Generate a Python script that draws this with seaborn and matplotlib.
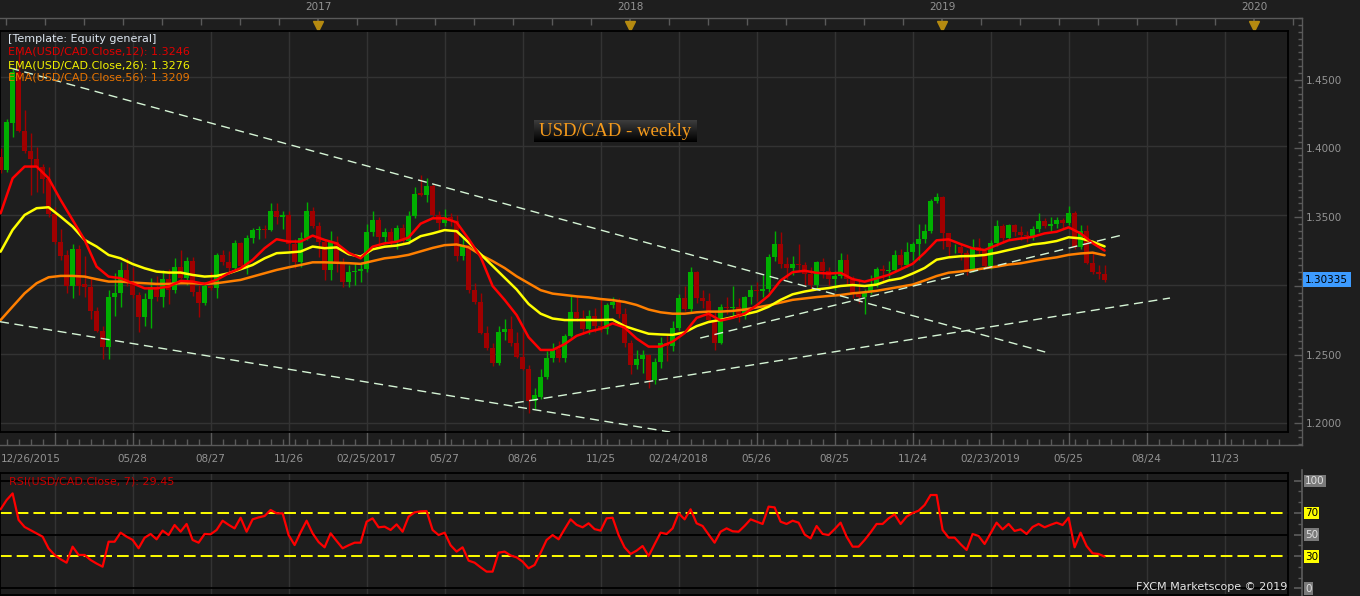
import numpy as np
import pandas as pd
import matplotlib
matplotlib.use("Agg")
import matplotlib.pyplot as plt
import matplotlib.patches as mpatches
import seaborn as sns

# ---------------- data (weekly candles, week 0 = 12/26/2015) ----------------
opens = [
    1.3925, 1.3830, 1.4170, 1.4539, 1.4112, 1.3968, 1.3907, 1.3848, 1.3764, 1.3507,
    1.3307, 1.3217, 1.2993, 1.3258, 1.3005, 1.2985, 1.2812, 1.2668, 1.2547, 1.2908,
    1.2937, 1.3106, 1.3017, 1.2925, 1.2769, 1.2894, 1.2985, 1.2908, 1.3038, 1.2961,
    1.3130, 1.3046, 1.3171, 1.2949, 1.2865, 1.2990, 1.2978, 1.3214, 1.3166, 1.3120,
    1.3303, 1.3134, 1.3339, 1.3395, 1.3405, 1.3398, 1.3532, 1.3489, 1.3505, 1.3291,
    1.3166, 1.3339, 1.3532, 1.3424, 1.3310, 1.3106, 1.3310, 1.3166, 1.3021, 1.3094,
    1.3100, 1.3112, 1.3382, 1.3467, 1.3342, 1.3382, 1.3315, 1.3407, 1.3315, 1.3496,
    1.3659, 1.3647, 1.3715, 1.3503, 1.3447, 1.3486, 1.3462, 1.3207, 1.3286, 1.2961,
    1.2877, 1.2648, 1.2540, 1.2436, 1.2655, 1.2677, 1.2576, 1.2480, 1.2390, 1.2162,
    1.2190, 1.2330, 1.2467, 1.2532, 1.2467, 1.2629, 1.2804, 1.2756, 1.2677, 1.2773,
    1.2700, 1.2677, 1.2853, 1.2877, 1.2790, 1.2575, 1.2419, 1.2460, 1.2490, 1.2311,
    1.2440, 1.2575, 1.2560, 1.2685, 1.2900, 1.2825, 1.3090, 1.2900, 1.2880, 1.2745,
    1.2580, 1.2840, 1.2830, 1.2835, 1.2770, 1.2910, 1.2960, 1.2955, 1.2970, 1.3200,
    1.3290, 1.3150, 1.3120, 1.3150, 1.3140, 1.3080, 1.3000, 1.3160, 1.3100, 1.3040,
    1.3060, 1.3180, 1.3040, 1.2930, 1.2910, 1.2950, 1.3000, 1.3110, 1.3100, 1.3105,
    1.3214, 1.3142, 1.3238, 1.3290, 1.3327, 1.3387, 1.3604, 1.3635, 1.3370, 1.3269,
    1.3275, 1.3226, 1.3098, 1.3274, 1.3240, 1.3134, 1.3298, 1.3423, 1.3334, 1.3430,
    1.3380, 1.3360, 1.3350, 1.3400, 1.3462, 1.3420, 1.3440, 1.3470, 1.3443, 1.3520,
    1.3274, 1.3390, 1.3154, 1.3090, 1.3080,
]
highs = [
    1.3985, 1.4195, 1.4560, 1.4690, 1.4260, 1.4093, 1.3992, 1.3870, 1.3850, 1.3560,
    1.3403, 1.3250, 1.3295, 1.3285, 1.3210, 1.3052, 1.2840, 1.2700, 1.2960, 1.3082,
    1.3166, 1.3190, 1.3130, 1.2950, 1.2937, 1.3046, 1.3060, 1.3105, 1.3110, 1.3190,
    1.3250, 1.3200, 1.3200, 1.3000, 1.3010, 1.3090, 1.3225, 1.3250, 1.3240, 1.3320,
    1.3310, 1.3360, 1.3410, 1.3420, 1.3430, 1.3590, 1.3590, 1.3530, 1.3530, 1.3330,
    1.3380, 1.3600, 1.3560, 1.3450, 1.3320, 1.3390, 1.3350, 1.3190, 1.3140, 1.3154,
    1.3165, 1.3438, 1.3532, 1.3486, 1.3406, 1.3410, 1.3430, 1.3440, 1.3532, 1.3703,
    1.3792, 1.3768, 1.3730, 1.3530, 1.3545, 1.3520, 1.3500, 1.3345, 1.3300, 1.3010,
    1.2940, 1.2700, 1.2580, 1.2700, 1.2750, 1.2770, 1.2660, 1.2660, 1.2420, 1.2250,
    1.2390, 1.2520, 1.2580, 1.2590, 1.2640, 1.2920, 1.2920, 1.2820, 1.2820, 1.2830,
    1.2900, 1.2870, 1.2910, 1.2905, 1.2830, 1.2600, 1.2530, 1.2530, 1.2500, 1.2470,
    1.2620, 1.2640, 1.2735, 1.2930, 1.2990, 1.3125, 1.3100, 1.2960, 1.2940, 1.2800,
    1.2860, 1.2910, 1.2990, 1.2900, 1.2920, 1.2995, 1.3020, 1.3070, 1.3220, 1.3385,
    1.3380, 1.3200, 1.3210, 1.3290, 1.3160, 1.3130, 1.3170, 1.3190, 1.3130, 1.3100,
    1.3230, 1.3220, 1.3060, 1.3040, 1.2970, 1.3070, 1.3130, 1.3140, 1.3170, 1.3250,
    1.3260, 1.3310, 1.3310, 1.3440, 1.3440, 1.3620, 1.3665, 1.3640, 1.3370, 1.3290,
    1.3290, 1.3250, 1.3330, 1.3340, 1.3260, 1.3320, 1.3465, 1.3440, 1.3440, 1.3440,
    1.3420, 1.3390, 1.3420, 1.3520, 1.3480, 1.3490, 1.3490, 1.3480, 1.3565, 1.3530,
    1.3430, 1.3430, 1.3230, 1.3140, 1.3140,
]
lows = [
    1.3810, 1.3815, 1.4070, 1.4100, 1.3950, 1.3648, 1.3672, 1.3660, 1.3490, 1.3290,
    1.3178, 1.2937, 1.2900, 1.2925, 1.2913, 1.2751, 1.2660, 1.2460, 1.2463, 1.2776,
    1.2840, 1.2990, 1.2900, 1.2660, 1.2700, 1.2685, 1.2880, 1.2840, 1.2860, 1.2940,
    1.3040, 1.3000, 1.2920, 1.2769, 1.2850, 1.2960, 1.2900, 1.3140, 1.3080, 1.3100,
    1.3110, 1.3080, 1.3300, 1.3330, 1.3340, 1.3390, 1.3440, 1.3400, 1.3250, 1.3120,
    1.3130, 1.3320, 1.3410, 1.3200, 1.3034, 1.3034, 1.3090, 1.2980, 1.2980, 1.3000,
    1.3020, 1.3094, 1.3350, 1.3286, 1.3300, 1.3280, 1.3260, 1.3290, 1.3290, 1.3480,
    1.3640, 1.3600, 1.3490, 1.3394, 1.3420, 1.3420, 1.3174, 1.3180, 1.2940, 1.2860,
    1.2640, 1.2530, 1.2413, 1.2420, 1.2600, 1.2560, 1.2470, 1.2380, 1.2070, 1.2100,
    1.2170, 1.2320, 1.2440, 1.2440, 1.2440, 1.2620, 1.2740, 1.2640, 1.2640, 1.2660,
    1.2660, 1.2640, 1.2830, 1.2760, 1.2550, 1.2355, 1.2390, 1.2360, 1.2250, 1.2280,
    1.2400, 1.2450, 1.2520, 1.2670, 1.2810, 1.2800, 1.2870, 1.2830, 1.2720, 1.2530,
    1.2570, 1.2790, 1.2770, 1.2730, 1.2750, 1.2860, 1.2880, 1.2910, 1.2950, 1.3170,
    1.3120, 1.3040, 1.3070, 1.3100, 1.3000, 1.2960, 1.2970, 1.3050, 1.3000, 1.2960,
    1.3050, 1.3000, 1.2900, 1.2870, 1.2790, 1.2930, 1.2980, 1.3020, 1.3050, 1.3090,
    1.3120, 1.3130, 1.3180, 1.3180, 1.3300, 1.3370, 1.3590, 1.3260, 1.3200, 1.3230,
    1.3180, 1.3070, 1.3090, 1.3220, 1.3120, 1.3110, 1.3280, 1.3300, 1.3320, 1.3350,
    1.3320, 1.3310, 1.3320, 1.3380, 1.3410, 1.3390, 1.3410, 1.3410, 1.3430, 1.3260,
    1.3260, 1.3150, 1.3080, 1.3040, 1.3020,
]
closes = [
    1.3830, 1.4177, 1.4539, 1.4112, 1.3968, 1.3907, 1.3848, 1.3764, 1.3511, 1.3307,
    1.3210, 1.2993, 1.3258, 1.2993, 1.2981, 1.2807, 1.2663, 1.2547, 1.2908, 1.2937,
    1.3106, 1.3017, 1.2925, 1.2769, 1.2894, 1.2985, 1.2908, 1.3038, 1.2961, 1.3130,
    1.3046, 1.3171, 1.2949, 1.2865, 1.2990, 1.2978, 1.3214, 1.3166, 1.3120, 1.3303,
    1.3134, 1.3339, 1.3395, 1.3405, 1.3398, 1.3532, 1.3489, 1.3505, 1.3291, 1.3166,
    1.3339, 1.3532, 1.3424, 1.3310, 1.3106, 1.3310, 1.3166, 1.3021, 1.3094, 1.3100,
    1.3112, 1.3382, 1.3467, 1.3342, 1.3382, 1.3315, 1.3407, 1.3315, 1.3496, 1.3655,
    1.3647, 1.3715, 1.3503, 1.3447, 1.3486, 1.3462, 1.3207, 1.3286, 1.2961, 1.2877,
    1.2648, 1.2540, 1.2436, 1.2660, 1.2677, 1.2576, 1.2480, 1.2390, 1.2162, 1.2203,
    1.2330, 1.2467, 1.2532, 1.2467, 1.2629, 1.2804, 1.2756, 1.2677, 1.2773, 1.2700,
    1.2677, 1.2853, 1.2877, 1.2790, 1.2575, 1.2419, 1.2460, 1.2490, 1.2311, 1.2440,
    1.2575, 1.2560, 1.2685, 1.2900, 1.2825, 1.3090, 1.2900, 1.2880, 1.2745, 1.2580,
    1.2840, 1.2830, 1.2835, 1.2770, 1.2910, 1.2960, 1.2955, 1.2970, 1.3200, 1.3290,
    1.3150, 1.3120, 1.3150, 1.3140, 1.3080, 1.3000, 1.3160, 1.3100, 1.3040, 1.3060,
    1.3180, 1.3040, 1.2930, 1.2910, 1.2950, 1.3000, 1.3110, 1.3100, 1.3105, 1.3214,
    1.3142, 1.3238, 1.3290, 1.3327, 1.3387, 1.3604, 1.3635, 1.3370, 1.3269, 1.3275,
    1.3226, 1.3098, 1.3274, 1.3240, 1.3134, 1.3298, 1.3423, 1.3334, 1.3430, 1.3380,
    1.3360, 1.3350, 1.3400, 1.3462, 1.3420, 1.3440, 1.3470, 1.3443, 1.3520, 1.3274,
    1.3390, 1.3154, 1.3090, 1.3080, 1.3033,
]

# EMA readings every second week
ema_weeks = list(range(0, 185, 2))
ema12 = [
    1.3515, 1.3768, 1.3853, 1.3853, 1.3768, 1.3612, 1.3467, 1.3323, 1.3130, 1.3058,
    1.3046, 1.3010, 1.2973, 1.2973, 1.2985, 1.3027, 1.3022, 1.3005, 1.3034, 1.3082,
    1.3118, 1.3178, 1.3263, 1.3328, 1.3311, 1.3311, 1.3354, 1.3323, 1.3298, 1.3230,
    1.3190, 1.3274, 1.3298, 1.3310, 1.3340, 1.3440, 1.3479, 1.3479, 1.3450, 1.3330,
    1.3200, 1.2990, 1.2890, 1.2780, 1.2620, 1.2528, 1.2528, 1.2570, 1.2630, 1.2660,
    1.2680, 1.2720, 1.2690, 1.2610, 1.2552, 1.2552, 1.2588, 1.2650, 1.2760, 1.2790,
    1.2740, 1.2760, 1.2790, 1.2850, 1.2920, 1.3030, 1.3090, 1.3100, 1.3085, 1.3080,
    1.3085, 1.3040, 1.3021, 1.3045, 1.3070, 1.3110, 1.3150, 1.3230, 1.3320, 1.3327,
    1.3293, 1.3262, 1.3250, 1.3285, 1.3320, 1.3333, 1.3345, 1.3370, 1.3382, 1.3414,
    1.3370, 1.3300, 1.3246,
]
ema26 = [
    1.3238, 1.3395, 1.3503, 1.3552, 1.3559, 1.3491, 1.3419, 1.3323, 1.3275, 1.3214,
    1.3190, 1.3149, 1.3118, 1.3094, 1.3087, 1.3087, 1.3070, 1.3058, 1.3063, 1.3082,
    1.3111, 1.3142, 1.3190, 1.3227, 1.3232, 1.3239, 1.3275, 1.3263, 1.3269, 1.3220,
    1.3202, 1.3255, 1.3274, 1.3282, 1.3300, 1.3350, 1.3370, 1.3394, 1.3386, 1.3305,
    1.3220, 1.3135, 1.3050, 1.2965, 1.2860, 1.2790, 1.2755, 1.2744, 1.2744, 1.2744,
    1.2744, 1.2747, 1.2700, 1.2672, 1.2645, 1.2640, 1.2637, 1.2655, 1.2700, 1.2730,
    1.2745, 1.2765, 1.2785, 1.2805, 1.2840, 1.2890, 1.2930, 1.2950, 1.2965, 1.2975,
    1.2990, 1.2997, 1.2990, 1.3000, 1.3030, 1.3045, 1.3080, 1.3120, 1.3180, 1.3197,
    1.3205, 1.3207, 1.3214, 1.3230, 1.3250, 1.3269, 1.3290, 1.3300, 1.3315, 1.3342,
    1.3334, 1.3310, 1.3276,
]
ema56 = [
    1.2744, 1.2841, 1.2937, 1.3010, 1.3053, 1.3063, 1.3063, 1.3058, 1.3039, 1.3022,
    1.3022, 1.3015, 1.3010, 1.3005, 1.3005, 1.3010, 1.3010, 1.3005, 1.3010, 1.3022,
    1.3034, 1.3058, 1.3082, 1.3106, 1.3125, 1.3142, 1.3161, 1.3161, 1.3158, 1.3155,
    1.3150, 1.3170, 1.3190, 1.3200, 1.3215, 1.3240, 1.3265, 1.3285, 1.3290, 1.3270,
    1.3215, 1.3170, 1.3120, 1.3060, 1.3010, 1.2960, 1.2935, 1.2925, 1.2915, 1.2908,
    1.2896, 1.2888, 1.2875, 1.2853, 1.2820, 1.2800, 1.2790, 1.2790, 1.2800, 1.2805,
    1.2805, 1.2810, 1.2820, 1.2835, 1.2850, 1.2870, 1.2890, 1.2900, 1.2910, 1.2918,
    1.2925, 1.2937, 1.2945, 1.2955, 1.2970, 1.2985, 1.3000, 1.3030, 1.3062, 1.3086,
    1.3095, 1.3105, 1.3118, 1.3130, 1.3145, 1.3154, 1.3170, 1.3185, 1.3197, 1.3215,
    1.3225, 1.3231, 1.3212,
]

# RSI(7), one reading per week
rsi = [
    73.4, 82.0, 88.2, 63.5, 57.0, 54.0, 51.0, 48.0, 37.0, 31.0,
    27.0, 23.8, 38.7, 31.0, 31.0, 26.3, 23.0, 20.1, 43.3, 43.3,
    51.7, 48.0, 45.0, 37.2, 47.0, 50.5, 45.5, 53.6, 49.5, 58.8,
    52.6, 59.8, 44.9, 42.4, 50.5, 50.2, 54.2, 62.8, 59.0, 55.7,
    65.6, 52.6, 64.1, 65.9, 67.2, 72.8, 69.7, 69.7, 49.5, 40.2,
    52.0, 62.8, 51.1, 43.0, 38.1, 51.1, 44.0, 37.2, 40.0, 42.4,
    42.4, 61.9, 65.0, 56.7, 57.3, 54.2, 59.4, 52.6, 66.6, 70.6,
    71.5, 71.8, 54.2, 49.5, 51.7, 40.0, 34.1, 38.1, 25.7, 23.8,
    19.5, 15.5, 15.5, 33.1, 34.1, 30.5, 28.8, 24.8, 18.6, 21.7,
    33.0, 44.9, 49.5, 45.5, 55.0, 64.1, 59.0, 56.7, 60.4, 55.0,
    53.6, 65.0, 65.6, 49.5, 38.0, 31.9, 35.0, 39.3, 30.0, 41.0,
    51.7, 50.5, 55.7, 69.7, 64.1, 73.4, 60.4, 57.9, 50.0, 42.4,
    52.6, 55.7, 53.0, 52.6, 58.0, 64.1, 62.0, 59.8, 75.9, 75.2,
    61.9, 59.8, 62.8, 61.0, 50.0, 46.4, 57.9, 50.5, 49.5, 55.0,
    61.0, 48.0, 38.7, 38.7, 44.9, 52.0, 59.8, 59.8, 65.0, 68.7,
    59.8, 66.6, 70.0, 72.1, 77.4, 86.7, 86.7, 54.2, 47.1, 47.1,
    41.0, 35.6, 50.5, 48.6, 41.2, 51.0, 61.0, 54.8, 59.8, 53.3,
    54.8, 50.5, 57.0, 59.8, 56.7, 59.0, 61.0, 58.8, 65.6, 38.1,
    51.7, 39.3, 32.5, 31.9, 29.45,
]

# hand-drawn trend lines (start week, start price, end week, end price)
trend_w0 = [1.6, -0.1, 85.7, 116.6]
trend_p0 = [1.4565, 1.2732, 1.2145, 1.2614]
trend_w1 = [174.1, 111.6, 194.9, 186.9]
trend_p1 = [1.2513, 1.1935, 1.2903, 1.3358]

date_weeks = [22, 35, 48, 61, 74, 87, 100, 113, 126, 139, 152, 165, 178, 191, 204]
date_labels = ["05/28", "08/27", "11/26", "02/25/2017", "05/27", "08/26", "11/25",
               "02/24/2018", "05/26", "08/25", "11/24", "02/23/2019", "05/25",
               "08/24", "11/23"]
grid_weeks = [9] + date_weeks
year_weeks = [52.9, 104.9, 156.9, 208.9]
year_labels = ["2017", "2018", "2019", "2020"]
price_ticks = [1.20, 1.25, 1.30, 1.35, 1.40, 1.45]
last_price = "1.30335"
rsi_ticks = [0, 30, 50, 70, 100]

# ---------------- style ----------------
BG = "#1e1e1e"
GRID = "#333333"
AXIS = "#5a5a5a"
TXT = "#939393"
GREEN = "#00b000"
RED = "#a00000"
TREND = "#d6f5d6"

sns.set_theme(style="dark", rc={"axes.facecolor": BG, "figure.facecolor": BG})
plt.rcParams["font.family"] = ["DejaVu Sans"]

W, H = 1360, 596
fig = plt.figure(figsize=(W / 100, H / 100), dpi=100)
fig.patch.set_facecolor(BG)


def px_axes(x0, y0, x1, y1):
    return fig.add_axes([x0 / W, 1 - y1 / H, (x1 - x0) / W, (y1 - y0) / H])


def wk(x):
    return (x - 0.6) / 6.0


def price(y):
    return 1.45 - (y - 77) * 0.0007225


def rsi_y(y):
    return (588.3 - y) / 1.076


# ---------------- outer frame of price panel (axis lines, ticks) ----------------
ax_f = px_axes(0, 18, 1302, 445)
ax_f.set_facecolor(BG)
ax_f.set_xlim(wk(0), wk(1302))
ax_f.set_ylim(price(445), price(18))
for s in ["top", "right", "bottom"]:
    ax_f.spines[s].set_color(AXIS)
    ax_f.spines[s].set_linewidth(1)
ax_f.spines["left"].set_visible(False)
ax_f.set_xticks(grid_weeks)
ax_f.set_xticklabels([""] + date_labels)
ax_f.set_xticks(np.arange(1, 214, 2), minor=True)
ax_f.yaxis.tick_right()
ax_f.set_yticks(price_ticks)
# the 1.3000 label sits under the last-price tag, as in the original
ax_f.set_yticklabels(["" if abs(p - 1.30) < 1e-9 else f"{p:.4f}" for p in price_ticks])
ax_f.set_yticks(np.arange(1.185, 1.495, 0.005), minor=True)
ax_f.tick_params(axis="x", which="major", bottom=True, direction="in", length=13,
                 width=1, color=AXIS, labelcolor=TXT, labelsize=7.5, pad=6.5)
ax_f.tick_params(axis="x", which="minor", bottom=True, direction="in", length=4,
                 width=1, color=AXIS)
ax_f.tick_params(axis="y", which="major", right=True, left=False, direction="in",
                 length=6, width=1, color=AXIS, labelcolor=TXT, labelsize=7.5, pad=3)
ax_f.tick_params(axis="y", which="minor", right=True, left=False, direction="in",
                 length=3, width=1, color=AXIS)

ax_t = ax_f.twiny()
ax_t.set_xlim(ax_f.get_xlim())
ax_t.set_xticks(year_weeks)
ax_t.set_xticklabels(year_labels)
ax_t.set_xticks(np.arange(52.9 - 6.5 * 8, 216, 6.5), minor=True)
ax_t.tick_params(axis="x", which="major", top=True, bottom=False, labeltop=True,
                 labelbottom=False, direction="in", length=5, color=AXIS,
                 labelcolor=TXT, labelsize=7.5, pad=4)
ax_t.tick_params(axis="x", which="minor", top=True, bottom=False, direction="in",
                 length=5, color=AXIS)
for s in ax_t.spines.values():
    s.set_visible(False)
ax_t.plot(year_weeks, [price(22.5)] * len(year_weeks), ls="none", marker="v",
          ms=7.5, color="#b58a10", clip_on=False)

# ---------------- main price panel ----------------
ax = px_axes(0, 31, 1288, 432)
ax.set_facecolor(BG)
ax.set_xticks([])
ax.set_yticks([])
for s in ax.spines.values():
    s.set_color("black")
    s.set_linewidth(1.3)
for w in grid_weeks:
    ax.axvline(w, color=GRID, lw=1, zorder=0)
for p in price_ticks:
    ax.axhline(p, color=GRID, lw=1, zorder=0)

df = pd.DataFrame({"week": np.arange(len(closes)), "open": opens, "high": highs,
                   "low": lows, "close": closes})
colors = np.where(df["close"] >= df["open"], GREEN, RED)
ax.vlines(df["week"], df["low"], df["high"], colors=colors, lw=1, zorder=2)
body = (df["close"] - df["open"]).abs().clip(lower=0.0004)
ax.bar(df["week"], body, bottom=df[["open", "close"]].min(axis=1), width=0.82,
       color=colors, linewidth=0, zorder=3)

ema_df = pd.DataFrame({"week": ema_weeks, "ema12": ema12, "ema26": ema26, "ema56": ema56})
sns.lineplot(data=ema_df, x="week", y="ema56", ax=ax, color="#ff7f00", lw=1.8, zorder=4)
sns.lineplot(data=ema_df, x="week", y="ema26", ax=ax, color="#ffff00", lw=1.8, zorder=4)
sns.lineplot(data=ema_df, x="week", y="ema12", ax=ax, color="#ff0000", lw=1.8, zorder=4)

for w0, p0, w1, p1 in zip(trend_w0, trend_p0, trend_w1, trend_p1):
    ax.plot([w0, w1], [p0, p1], color=TREND, lw=1, dashes=(6.5, 4), zorder=5)

ax.set_xlim(wk(0), wk(1288))
ax.set_ylim(price(432), price(31))
ax.set_xlabel("")
ax.set_ylabel("")

# title box with gradient
ax_title = px_axes(534, 120, 697, 142)
ax_title.imshow(np.linspace(0.24, 0.0, 40).reshape(-1, 1), aspect="auto",
                cmap="gray", vmin=0, vmax=1)
ax_title.axis("off")
fig.text(615.5 / W, 1 - 131.5 / H, "USD/CAD - weekly", ha="center", va="center",
         color="#f59a1b", fontsize=13.5, family=["Liberation Serif", "DejaVu Serif"])

# legend texts
leg = [("[Template: Equity general]", "#dde6f0"),
       ("EMA(USD/CAD.Close,12): 1.3246", "#e00000"),
       ("EMA(USD/CAD.Close,26): 1.3276", "#f2f200"),
       ("EMA(USD/CAD.Close,56): 1.3209", "#e87400")]
for i, (t, c) in enumerate(leg):
    fig.text(8 / W, 1 - (39 + 13 * i) / H, t, color=c, fontsize=8, va="center", ha="left")

# first date label and current price tag
fig.text(1 / W, 1 - 459 / H, "12/26/2015", color=TXT, fontsize=7.5, va="center", ha="left")
fig.patches.append(mpatches.Rectangle((1302.5 / W, 1 - 287 / H), 48 / W, 14.5 / H,
                                      transform=fig.transFigure, fc="#3d9bff", ec="none"))
fig.text(1326.5 / W, 1 - 279.7 / H, last_price, color="black", fontsize=7.5,
         va="center", ha="center")

# ---------------- RSI panel ----------------
ax_rf = px_axes(0, 470, 1302, 596)
ax_rf.set_facecolor(BG)
ax_rf.set_xlim(wk(0), wk(1302))
ax_rf.set_ylim(rsi_y(596), rsi_y(470))
for s in ["top", "left", "bottom"]:
    ax_rf.spines[s].set_visible(False)
ax_rf.spines["right"].set_color(AXIS)
ax_rf.set_xticks([])
ax_rf.yaxis.tick_right()
ax_rf.set_yticks(rsi_ticks)
ax_rf.set_yticklabels([])
ax_rf.set_yticks(np.arange(0, 101, 10), minor=True)
ax_rf.tick_params(axis="y", which="major", right=True, left=False, direction="in",
                  length=6, color=AXIS)
ax_rf.tick_params(axis="y", which="minor", right=True, left=False, direction="in",
                  length=3, color=AXIS)

ax_r = px_axes(0, 473, 1288, 595)
ax_r.set_facecolor(BG)
ax_r.set_xticks([])
ax_r.set_yticks([])
for s in ax_r.spines.values():
    s.set_color("black")
    s.set_linewidth(1.3)
for w in grid_weeks:
    ax_r.axvline(w, color=GRID, lw=1, zorder=0)
for lvl in [0, 50, 100]:
    ax_r.axhline(lvl, color="black", lw=1.3, zorder=1)
for lvl in [30, 70]:
    ax_r.axhline(lvl, color="#ffff00", lw=1.4, dashes=(6, 2.6), zorder=2)
rsi_df = pd.DataFrame({"week": np.arange(len(rsi)), "rsi": rsi})
sns.lineplot(data=rsi_df, x="week", y="rsi", ax=ax_r, color="#ff0000", lw=1.6, zorder=3)
ax_r.set_xlim(wk(0), wk(1288))
ax_r.set_ylim(rsi_y(595), rsi_y(473))
ax_r.set_xlabel("")
ax_r.set_ylabel("")

fig.text(9 / W, 1 - 481.5 / H, "RSI(USD/CAD.Close, 7): 29.45", color="#c80000",
         fontsize=8, va="center", ha="left")
fig.text(1287 / W, 1 - 587.5 / H, "FXCM Marketscope \u00a9 2019", color="#e6e6e6",
         fontsize=8, va="center", ha="right")

for lvl, ypx in zip(rsi_ticks, [588.5, 556.7, 534.6, 512.8, 481]):
    fc = "#ffff00" if lvl in (30, 70) else "#7a7a7a"
    tc = "black" if lvl in (30, 70) else "#e0e0e0"
    fig.text(1305 / W, 1 - ypx / H, str(lvl), color=tc, fontsize=7.5, va="center",
             ha="left", bbox=dict(boxstyle="square,pad=0.12", fc=fc, ec="none"))

fig.savefig("out.png", dpi=100, facecolor=BG)
